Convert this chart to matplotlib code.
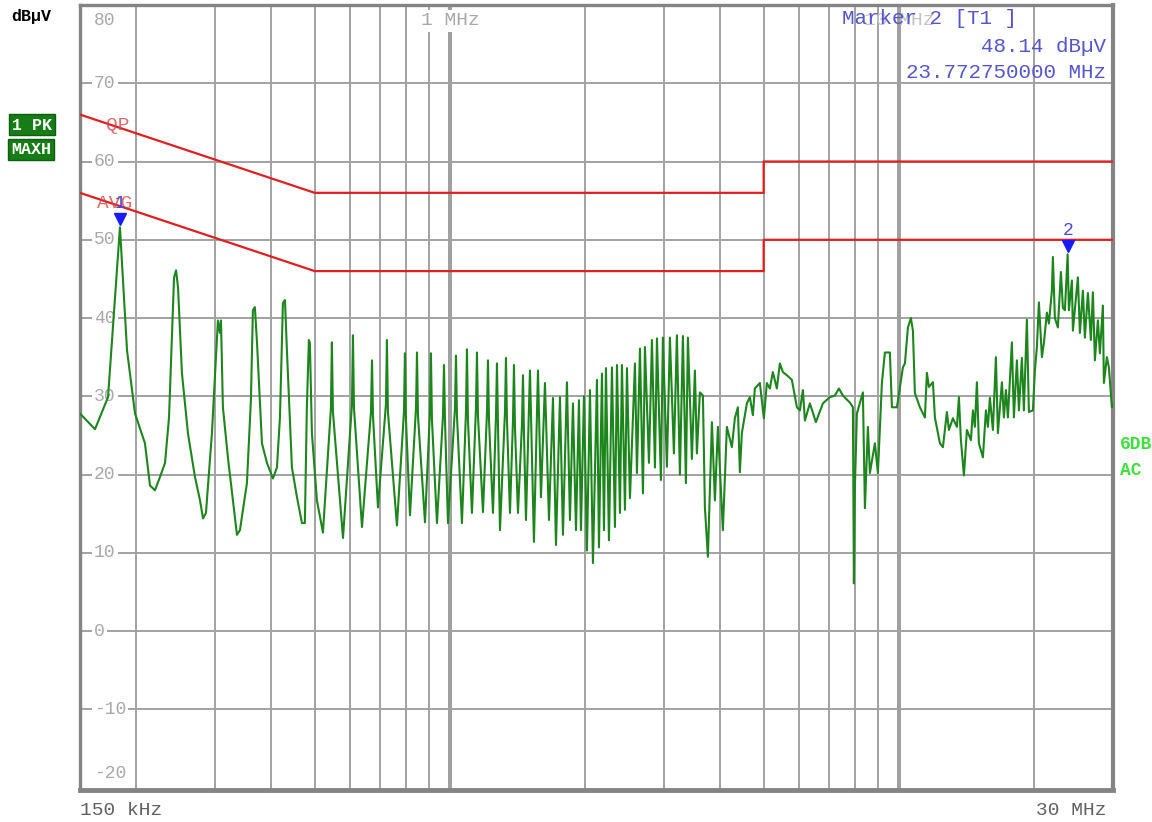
import matplotlib
matplotlib.use("Agg")
import matplotlib.pyplot as plt
from matplotlib.transforms import offset_copy

W, H = 1152, 822
MONO = "Liberation Mono"

# peak / max-hold trace: frequency in MHz, level in dBuV
trace_freq = [
    0.150, 0.162, 0.1732, 0.1841, 0.1909, 0.1989, 0.2093, 0.2148, 0.2203, 0.2261,
    0.2320, 0.2368, 0.2430, 0.2455, 0.2480, 0.2530, 0.2609, 0.2705, 0.2776, 0.2819,
    0.2862, 0.2951, 0.3028, 0.3043, 0.3075, 0.3091, 0.3122, 0.3203, 0.3286, 0.3355,
    0.3407, 0.3531, 0.3604, 0.3641, 0.3678, 0.3716, 0.3814, 0.3913, 0.4035, 0.4119,
    0.4183, 0.4247, 0.4292, 0.4335, 0.4448, 0.4565, 0.4683, 0.4753, 0.4802, 0.4852,
    0.4877, 0.4928, 0.5056, 0.5215,
    0.5433, 0.5460, 0.5489, 0.578, 0.6052, 0.6083, 0.6115, 0.6371, 0.6672, 0.6707,
    0.6741, 0.6915, 0.7204, 0.7241, 0.7278, 0.7622, 0.7902, 0.7942, 0.7984, 0.8149,
    0.8405, 0.8448, 0.8491, 0.8802, 0.9028, 0.9074, 0.9121, 0.9359, 0.9652, 0.9702,
    0.9752, 0.9903, 1.0265, 1.0318, 1.0371, 1.0639, 1.0860, 1.0916, 1.0972, 1.1199,
    1.1431, 1.1491, 1.1550, 1.1850, 1.2096, 1.2158, 1.2221, 1.2474, 1.2667, 1.2732,
    1.2797, 1.2930, 1.3265, 1.3334, 1.3402, 1.3610, 1.3822, 1.3892, 1.3964, 1.4180,
    1.4475, 1.4549, 1.4622, 1.4774,
    1.5079, 1.5391, 1.5712, 1.5955, 1.6285, 1.6624, 1.6968, 1.7231, 1.7588, 1.7860,
    1.8230, 1.8513, 1.8800, 1.9092, 1.9388, 1.9588, 1.9892, 2.0200, 2.0514, 2.0830,
    2.1263, 2.1483, 2.1815, 2.2041, 2.2268, 2.2613, 2.2963, 2.3318, 2.3561, 2.3925,
    2.4171, 2.4546, 2.4800, 2.5184, 2.5838, 2.6104, 2.6510, 2.6921, 2.7196, 2.7762,
    2.8191, 2.8630, 2.8924, 2.9517, 2.9820, 3.0438, 3.0912, 3.1551, 3.2041, 3.2538,
    3.3043, 3.3554, 3.3899, 3.4602, 3.5139, 3.5500, 3.6052,
    3.6613, 3.6988, 3.7561, 3.8342, 3.8935, 3.9540, 4.0558, 4.1402, 4.2475, 4.3133,
    4.3802, 4.4254, 4.4710, 4.5873, 4.6584, 4.7305, 4.7794, 4.9036, 5.0051, 5.0825,
    5.1615, 5.2415, 5.3500, 5.4328, 5.5172, 5.6317, 5.778, 5.9292, 6.0212, 6.1147,
    6.1778, 6.3379, 6.5360, 6.7749, 7.0226, 7.2052, 7.3543, 7.5069, 7.7813, 7.9024,
    7.9427, 7.9836, 8.0657, 8.3177, 8.4040, 8.5341, 8.6219, 8.8461, 8.9829, 9.1693,
    9.3112, 9.5532, 9.6520, 9.904, 10.213, 10.318, 10.478, 10.640, 10.750, 10.861,
    11.143, 11.432, 11.550, 11.670, 11.912, 12.034, 12.347, 12.539, 12.798, 12.930,
    13.198, 13.472, 13.611, 13.751, 13.964, 14.181, 14.475, 14.624, 14.773, 14.926,
    15.080, 15.393, 15.632, 15.793, 15.956, 16.203, 16.454, 16.624, 16.969, 17.143,
    17.321, 17.500, 17.861, 18.045, 18.326, 18.515, 18.801, 18.995, 19.289, 19.488,
    19.893, 20.098, 20.304, 20.514, 20.833, 21.047, 21.374, 21.594, 21.928, 22.041,
    22.268, 22.614, 22.965, 23.201, 23.441, 23.77275, 23.926, 24.298, 24.422, 25.056,
    25.315, 25.708, 25.972, 26.375, 26.783, 27.060, 27.338, 27.762, 28.049, 28.484,
    28.630, 29.074, 29.374, 29.829, 30.0,
]
trace_level = [
    27.8, 25.8, 29.9, 51.6, 35.9, 27.8, 24.0, 18.6, 18.0, 19.7,
    21.5, 27.3, 45.2, 46.1, 43.9, 33.0, 25.3, 19.7, 16.7, 14.4,
    15.1, 25.3, 37.2, 39.7, 38.1, 39.7, 28.6, 22.2, 16.7, 12.3,
    12.9, 18.9, 29.5, 41.0, 41.4, 37.2, 24.0, 21.5, 19.5, 20.9,
    27.3, 41.9, 42.3, 35.9, 20.9, 17.1, 13.8, 13.8, 28.6, 37.2,
    36.8, 25.3, 16.7, 12.6,
    28.5, 36.9, 28.0, 11.9, 29.0, 37.8, 28.5, 13.3, 28.0, 34.6,
    27.5, 15.8, 29.0, 37.2, 28.0, 13.5, 28.0, 35.5, 27.0, 14.8,
    28.5, 35.6, 27.5, 13.9, 28.0, 35.5, 27.0, 13.8, 27.5, 34.0,
    27.0, 13.8, 28.5, 35.2, 27.5, 13.8, 28.0, 36.0, 27.0, 15.1,
    28.5, 35.6, 27.5, 15.2, 28.0, 34.6, 27.0, 15.1, 27.5, 34.2,
    26.5, 12.9, 28.0, 34.9, 27.0, 15.1, 27.0, 34.0, 26.0, 15.1,
    26.5, 32.7, 25.5, 14.2,
    33.3, 11.4, 33.3, 17.1, 31.7, 14.2, 29.8, 11.0, 29.9, 12.3,
    31.8, 14.2, 29.1, 12.9, 29.5, 12.9, 30.0, 10.3, 30.8, 8.7,
    32.1, 10.7, 32.9, 12.9, 33.6, 11.6, 33.7, 13.3, 34.0, 15.1,
    34.0, 15.5, 33.6, 17.0, 34.2, 20.2, 36.1, 17.6, 36.3, 21.5,
    37.2, 20.9, 37.4, 19.3, 37.5, 21.0, 37.5, 22.7, 37.8, 20.0,
    37.7, 18.9, 37.5, 22.0, 33.3, 22.7, 30.5,
    30.1, 15.8, 9.5, 26.7, 16.7, 26.1, 12.9, 26.1, 23.5, 27.2,
    28.6, 20.3, 25.3, 29.1, 29.9, 27.6, 31.0, 31.7, 27.2, 31.7,
    31.0, 33.1, 31.0, 34.2, 33.1, 32.7, 32.1, 28.6, 28.2, 30.8,
    26.9, 29.1, 26.7, 29.1, 29.9, 30.1, 31.0, 30.1, 29.2, 28.6,
    6.1, 18.4, 27.8, 30.5, 15.7, 26.1, 20.2, 24.0, 20.2, 31.7,
    35.6, 35.6, 28.6, 28.6, 33.7, 34.2, 38.8, 40.0, 38.4, 30.4,
    28.6, 27.3, 33.0, 31.2, 31.8, 27.3, 24.0, 23.5, 28.0, 25.7,
    27.2, 26.1, 29.9, 24.4, 19.9, 25.7, 24.4, 28.2, 26.1, 31.8,
    24.0, 22.2, 28.2, 26.1, 29.8, 25.7, 35.0, 25.3, 31.8, 27.3,
    30.8, 27.3, 36.9, 27.3, 34.6, 28.2, 34.9, 28.2, 39.8, 28.0,
    28.2, 33.3, 36.3, 42.0, 35.0, 36.8, 40.7, 39.3, 43.5, 47.8,
    40.0, 38.8, 45.9, 41.3, 41.0, 48.14, 41.0, 44.8, 38.4, 45.2,
    38.1, 43.5, 37.5, 43.2, 37.2, 43.3, 34.6, 39.7, 35.5, 41.6,
    31.7, 35.0, 33.7, 28.6, 28.9,
]

# conducted emission limit lines (QP and AVG)
limit_freq = [0.15, 0.5, 5.0, 5.0, 30.0]
qp_limit = [66, 56, 56, 60, 60]
avg_limit = [56, 46, 46, 50, 50]

# markers 1 and 2
marker_freq = [0.1841, 23.77275]
marker_level = [51.6, 48.14]

grid_freq = [0.2, 0.3, 0.4, 0.5, 0.6, 0.7, 0.8, 0.9, 1, 2, 3, 4, 5, 6, 7, 8, 9, 10, 20]
level_ticks = [-10, 0, 10, 20, 30, 40, 50, 60, 70]


def fig_xy(x, y):
    return x / W, 1 - y / H


fig = plt.figure(figsize=(W / 100, H / 100), dpi=100, facecolor="white")
ax = fig.add_axes([80 / W, 1 - 790 / H, 1033 / W, 785 / H])
ax.set_xscale("log")
ax.set_xlim(0.15, 30)
ax.set_ylim(-20.3, 80)

ax.set_xticks(grid_freq)
ax.set_xticks([], minor=True)
ax.set_yticks(level_ticks)
ax.tick_params(which="both", length=0, labelbottom=False, labelleft=False)
ax.grid(True, color="#a2a2a2", lw=1.4, zorder=0)
for f in (1, 10):
    ax.axvline(f, color="#8a8a8a", lw=2.6, zorder=0.5)
for s in ax.spines.values():
    s.set_color("#848484")
    s.set_linewidth(2.4)
ax.spines["bottom"].set_linewidth(3.5)
ax.spines["right"].set_linewidth(3.0)

# level labels drawn inside the graticule
ytrans = ax.get_yaxis_transform()
white_bg = dict(boxstyle="square,pad=0.12", fc="white", ec="none")
lab_kw = dict(fontsize=13, family=MONO, color="#a8a8a8", ha="left", va="center",
              bbox=white_bg, zorder=2)
for v in level_ticks:
    ax.text(0.0135, v, str(v), transform=ytrans, **lab_kw)
ax.text(0.0135, 80, "80", transform=offset_copy(ytrans, fig, y=-15, units="dots"), **lab_kw)
ax.text(0.0135, -20.3, "-20", transform=offset_copy(ytrans, fig, y=17, units="dots"), **lab_kw)

xtrans = ax.get_xaxis_transform()
ax.text(1, 0.98, "1 MHz", transform=xtrans, fontsize=14, family=MONO, color="#a8a8a8",
        ha="center", va="center", bbox=white_bg, zorder=2)
ax.text(10, 0.98, "10 MHz", transform=xtrans, fontsize=14, family=MONO, color="#c4c4c4",
        ha="center", va="center", zorder=2)

# limits and trace
ax.plot(limit_freq, qp_limit, color="#e41e1e", lw=1.6, zorder=4)
ax.plot(limit_freq, avg_limit, color="#e41e1e", lw=1.6, zorder=4)
ax.plot(trace_freq, trace_level, color="#1c861c", lw=1.5, zorder=3)

ax.text(0.171, 64.6, "QP", fontsize=14, family=MONO, color="#d04848", alpha=0.8,
        va="center", zorder=5)
ax.text(0.164, 54.7, "AVG", fontsize=14, family=MONO, color="#d04848", alpha=0.8,
        va="center", zorder=5)

tri_tr = offset_copy(ax.transData, fig, y=8, units="dots")
num_tr = offset_copy(ax.transData, fig, y=24, units="dots")
for i, (f, v) in enumerate(zip(marker_freq, marker_level), start=1):
    ax.plot([f], [v], marker="v", ms=8, color="#1a1aff", mec="#1a1aff",
            transform=tri_tr, zorder=6, clip_on=False)
    ax.text(f, v, str(i), transform=num_tr, fontsize=13, family=MONO,
            color="#4848d8", ha="center", va="center", zorder=6)

# marker readout
blue = "#5555cc"
fig.text(*fig_xy(842, 18), "Marker 2 [T1 ]", fontsize=15, family=MONO, color=blue,
         ha="left", va="center")
fig.text(*fig_xy(1106, 46), f"{marker_level[1]:.2f} dB\u00b5V", fontsize=15, family=MONO,
         color=blue, ha="right", va="center")
fig.text(*fig_xy(1106, 73), f"{marker_freq[1]:.9f} MHz", fontsize=15, family=MONO,
         color=blue, ha="right", va="center")

# side annotations
fig.text(*fig_xy(11, 16), "dB\u00b5V", fontsize=12, family=MONO, weight="bold",
         color="black", ha="left", va="center")
box = dict(boxstyle="square,pad=0.18", fc="#167d16", ec="#0e5e0e")
fig.text(*fig_xy(12, 125), "1 PK", fontsize=12, family=MONO, weight="bold",
         color="white", ha="left", va="center", bbox=box)
fig.text(*fig_xy(11, 150), "MAXH", fontsize=12, family=MONO, weight="bold",
         color="white", ha="left", va="center", bbox=box)
fig.text(*fig_xy(1120, 444), "6DB", fontsize=13, family=MONO, weight="bold",
         color="#3ee03e", ha="left", va="center")
fig.text(*fig_xy(1120, 470), "AC", fontsize=13, family=MONO, weight="bold",
         color="#3ee03e", ha="left", va="center")

fig.text(*fig_xy(80, 810), "150 kHz", fontsize=14, family=MONO, color="#606060",
         ha="left", va="center")
fig.text(*fig_xy(1106, 810), "30 MHz", fontsize=14, family=MONO, color="#606060",
         ha="right", va="center")

fig.savefig("out.png", dpi=100, facecolor="white")
